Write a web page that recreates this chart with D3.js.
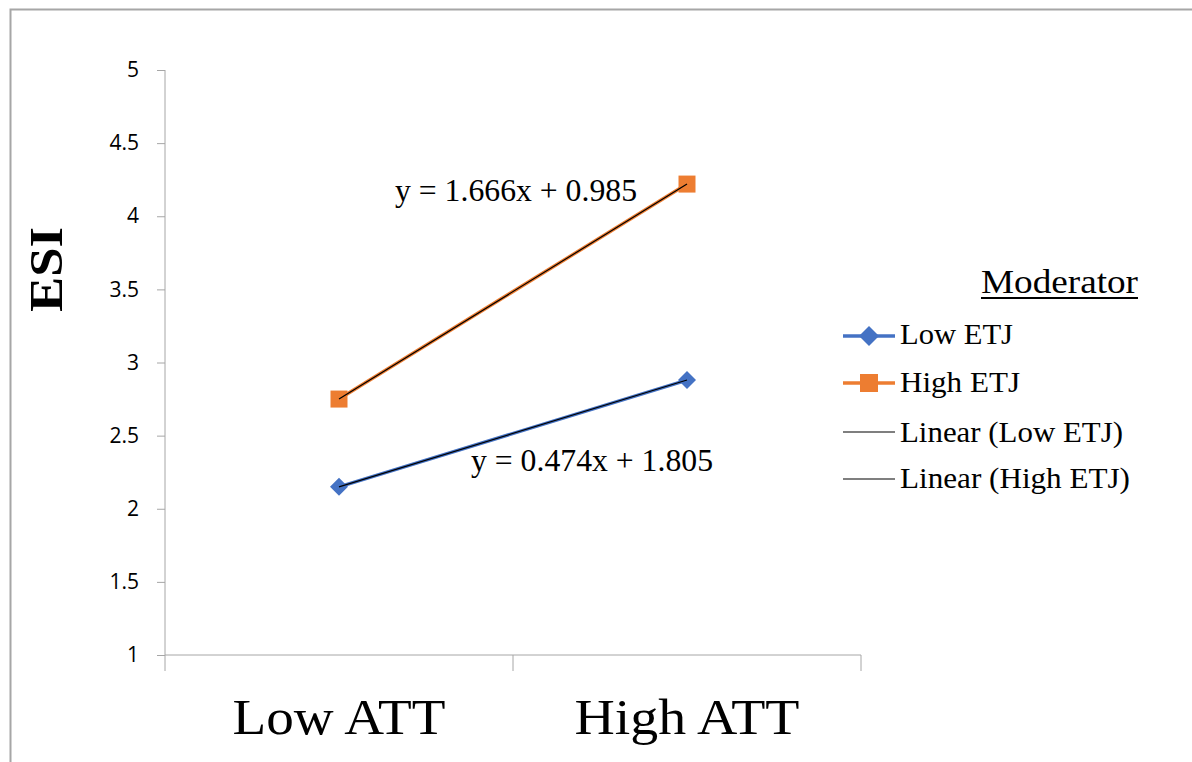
<!DOCTYPE html>
<html><head><meta charset="utf-8">
<script src="https://cdn.jsdelivr.net/npm/d3@7"></script>
<style>body{margin:0;background:#fff}svg{display:block}</style>
</head><body>
<script>
const categories = ["Low ATT", "High ATT"];
const lowETJ = [2.15, 2.88];
const highETJ = [2.75, 4.22];
const yTicks = [1, 1.5, 2, 2.5, 3, 3.5, 4, 4.5, 5];
const eqLow = "y = 0.474x + 1.805";
const eqHigh = "y = 1.666x + 0.985";
const legendTitle = "Moderator";
const legendLabels = ["Low ETJ", "High ETJ", "Linear (Low ETJ)", "Linear (High ETJ)"];

const W = 1192, H = 762;
const svg = d3.select("body").append("svg").attr("width", W).attr("height", H);
const serif = "'Liberation Serif','Times New Roman',serif";
const sans = "'Open Sans','Noto Sans',sans-serif";

// frame
svg.append("rect").attr("x", 10.5).attr("y", 9.5).attr("width", 1300).attr("height", 1000)
  .attr("fill", "none").attr("stroke", "#a6a6a6").attr("stroke-width", 2);

const x = d3.scaleBand().domain(categories).range([165, 861]);
const y = d3.scaleLinear().domain([1, 5]).range([655, 70]);

// y axis
const ya = svg.append("g").attr("transform", "translate(165,0)")
  .call(d3.axisLeft(y).tickValues(yTicks).tickSize(8).tickPadding(18).tickFormat(d3.format("")));
ya.select(".domain").attr("stroke", "#a6a6a6").attr("d", "M0,70V655");
ya.selectAll(".tick line").attr("stroke", "#a6a6a6");
ya.selectAll("text").attr("font-family", sans).attr("font-size", 21).attr("fill", "#000");

// x axis
const xa = svg.append("g").attr("transform", "translate(0,655)");
xa.append("line").attr("x1", 165).attr("x2", 861).attr("stroke", "#a6a6a6");
const bounds = [165, 165 + x.bandwidth(), 861];
xa.selectAll(".xt").data(bounds).join("line")
  .attr("x1", d => d).attr("x2", d => d).attr("y1", 0).attr("y2", 16).attr("stroke", "#a6a6a6");
const xLen = [213, 225];
xa.selectAll(".xl").data(categories).join("text")
  .attr("x", d => x(d) + x.bandwidth() / 2).attr("y", 79).attr("text-anchor", "middle")
  .attr("font-family", serif).attr("font-size", 50)
  .attr("textLength", (d, i) => xLen[i]).attr("lengthAdjust", "spacingAndGlyphs").text(d => d);

// y title
svg.append("text").attr("transform", "translate(62,269.5) rotate(-90)").attr("text-anchor", "middle")
  .attr("font-family", serif).attr("font-weight", "bold").attr("font-size", 46)
  .attr("textLength", 85).attr("lengthAdjust", "spacingAndGlyphs").text("ESI");

const cx = d => x(d) + x.bandwidth() / 2;
const line = d3.line().x(d => cx(d[0])).y(d => y(d[1]));
const diamond = r => `M0,${-r}L${r},0L0,${r}L${-r},0Z`;
const square = r => `M${-r},${-r}H${r}V${r}H${-r}Z`;
const series = [
  {vals: lowETJ, color: "#4472C4", shape: "diamond"},
  {vals: highETJ, color: "#ED7D31", shape: "square"}
];
series.forEach(s => {
  const pts = categories.map((c, i) => [c, s.vals[i]]);
  svg.append("path").attr("d", line(pts)).attr("fill", "none").attr("stroke", s.color).attr("stroke-width", 3.5);
  svg.selectAll(null).data(pts).join("path")
    .attr("transform", d => `translate(${cx(d[0])},${y(d[1])})`)
    .attr("d", s.shape === "diamond" ? diamond(9) : square(8.5))
    .attr("fill", s.color);
});
series.forEach(s => {
  const pts = categories.map((c, i) => [c, s.vals[i]]);
  svg.append("path").attr("d", line(pts)).attr("fill", "none").attr("stroke", "#000").attr("stroke-width", 1.2);
});

// equations
svg.append("text").attr("x", 395).attr("y", 201).attr("font-family", serif).attr("font-size", 32)
  .attr("textLength", 242).attr("lengthAdjust", "spacingAndGlyphs").text(eqHigh);
svg.append("text").attr("x", 471).attr("y", 471).attr("font-family", serif).attr("font-size", 32)
  .attr("textLength", 242).attr("lengthAdjust", "spacingAndGlyphs").text(eqLow);

// legend
svg.append("text").attr("x", 981).attr("y", 293).attr("font-family", serif).attr("font-size", 33)
  .attr("textLength", 157).attr("lengthAdjust", "spacingAndGlyphs").text(legendTitle);
svg.append("line").attr("x1", 981).attr("x2", 1138).attr("y1", 298).attr("y2", 298)
  .attr("stroke", "#000").attr("stroke-width", 2);
const lg = svg.append("g");
const ly = [336, 383, 432, 479];
const lLen = [113, 120, 223, 230];
legendLabels.forEach((t, i) => {
  const g = lg.append("g").attr("transform", `translate(0,${ly[i]})`);
  if (i < 2) {
    const s = series[i];
    g.append("line").attr("x1", 843).attr("x2", 895).attr("stroke", s.color).attr("stroke-width", 3.5);
    g.append("path").attr("transform", "translate(869,0)")
      .attr("d", s.shape === "diamond" ? diamond(10) : square(9)).attr("fill", s.color);
  } else {
    g.append("line").attr("x1", 843).attr("x2", 895).attr("stroke", "#000").attr("stroke-width", 1.2);
  }
  g.append("text").attr("x", 900).attr("y", [8, 9, 9.5, 9][i]).attr("font-family", serif).attr("font-size", 30)
    .attr("textLength", lLen[i]).attr("lengthAdjust", "spacingAndGlyphs").text(t);
});
</script>
</body></html>
